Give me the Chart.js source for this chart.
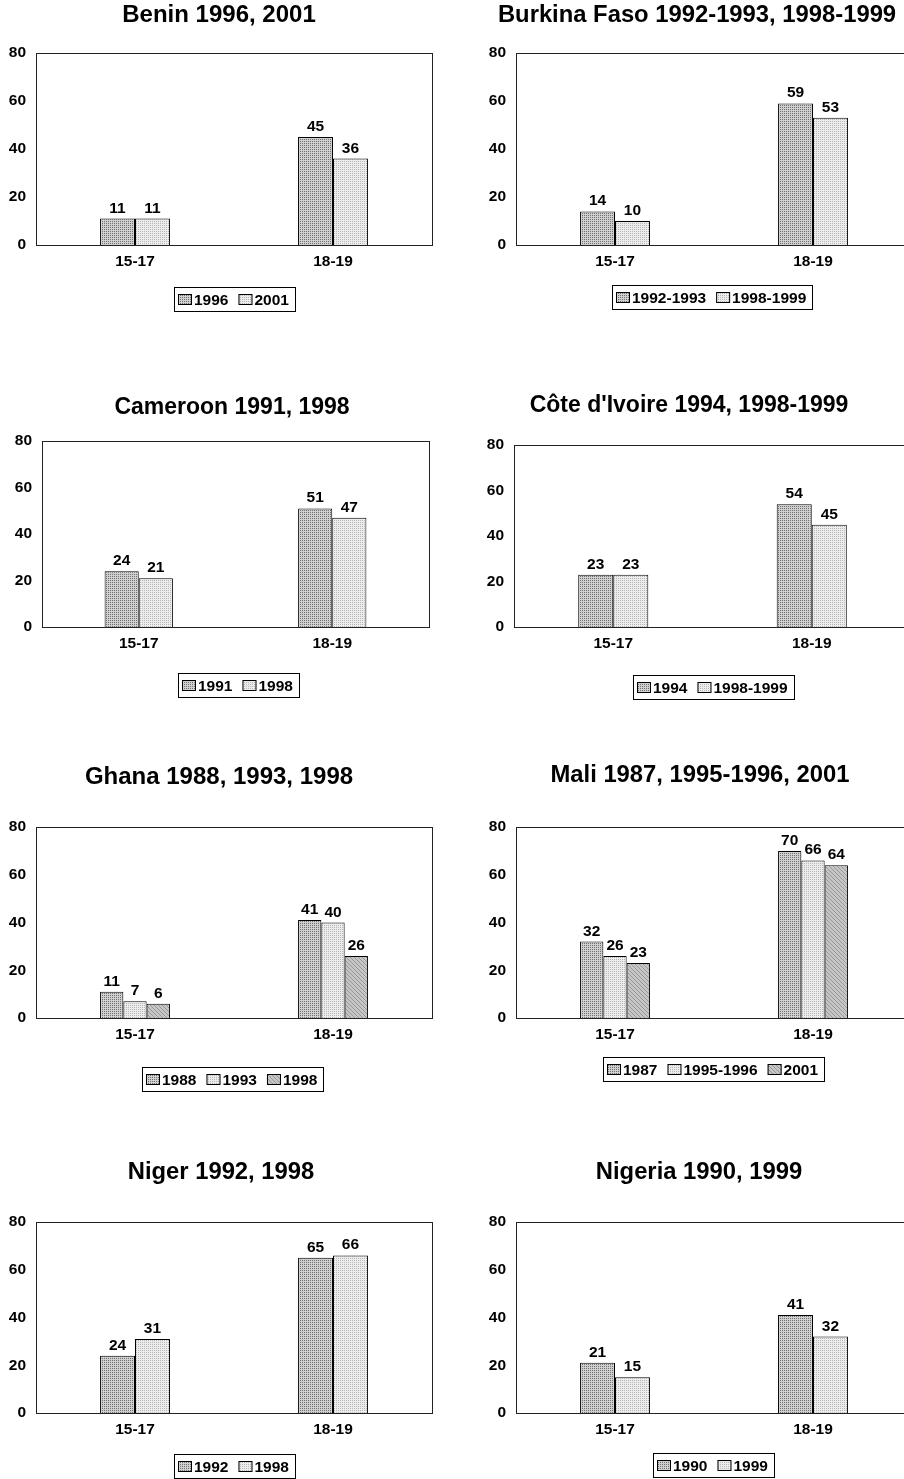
<!DOCTYPE html>
<html>
<head>
<meta charset="utf-8">
<script src="https://cdn.jsdelivr.net/npm/chart.js@4.4.0/dist/chart.umd.min.js"></script>
<style>
  html, body { margin: 0; padding: 0; background: #fff; overflow: hidden; }
  body { width: 904px; height: 1479px; position: relative; }
  canvas { position: absolute; }
</style>
</head>
<body>
<script>
// age groups shared by every panel
const ageGroups = ['15-17', '18-19'];

// values, one array per survey year
const benin1996 = [11, 45];
const benin2001 = [11, 36];
const burkina1992 = [14, 59];
const burkina1998 = [10, 53];
const cameroon1991 = [24, 51];
const cameroon1998 = [21, 47];
const cote1994 = [23, 54];
const cote1998 = [23, 45];
const ghana1988 = [11, 41];
const ghana1993 = [7, 40];
const ghana1998 = [6, 26];
const mali1987 = [32, 70];
const mali1995 = [26, 66];
const mali2001 = [23, 64];
const niger1992 = [24, 65];
const niger1998 = [31, 66];
const nigeria1990 = [21, 41];
const nigeria1999 = [15, 32];

const yTicks = [0, 20, 40, 60, 80];

const FONT = '"Liberation Sans", Arial, sans-serif';

function makePattern(size, bg, fg, cells) {
  const c = document.createElement('canvas');
  c.width = size;
  c.height = size;
  const g = c.getContext('2d');
  g.fillStyle = bg;
  g.fillRect(0, 0, size, size);
  g.fillStyle = fg;
  cells.forEach(([x, y]) => g.fillRect(x, y, 1, 1));
  return g.createPattern(c, 'repeat');
}

// excel-ish fill textures
const fills = [
  makePattern(2, '#d0d0d0', '#707070', [[0, 0]]),
  makePattern(2, '#ececec', '#b8b8b8', [[0, 0]]),
  makePattern(4, '#c6c6c6', '#969696', [[0, 0], [1, 1], [2, 2], [3, 3]])
];

// each panel: title, series, where it sits on the page
const panels = [
  { title: 'Benin 1996, 2001', years: ['1996', '2001'], series: [benin1996, benin2001], titleSize: 24,
    col: 0, plot: [36, 53, 432, 245], titleX: 219, titleY: 15, legendX: 234, legendTop: 287 },
  { title: 'Burkina Faso 1992-1993, 1998-1999', years: ['1992-1993', '1998-1999'], series: [burkina1992, burkina1998], titleSize: 23.8,
    col: 1, plot: [516, 53, 912, 245], titleX: 697, titleY: 15, legendX: 712, legendTop: 285 },
  { title: 'Cameroon 1991, 1998', years: ['1991', '1998'], series: [cameroon1991, cameroon1998], titleSize: 23,
    col: 0, plot: [42, 441, 429, 627], titleX: 232, titleY: 408, legendX: 238, legendTop: 673 },
  { title: "Côte d'Ivoire 1994, 1998-1999", years: ['1994', '1998-1999'], series: [cote1994, cote1998], titleSize: 23,
    col: 1, plot: [514, 445, 911, 627], titleX: 689, titleY: 406, legendX: 713, legendTop: 675 },
  { title: 'Ghana 1988, 1993, 1998', years: ['1988', '1993', '1998'], series: [ghana1988, ghana1993, ghana1998], titleSize: 24,
    col: 0, plot: [36, 827, 432, 1018], titleX: 219, titleY: 777, legendX: 233, legendTop: 1067 },
  { title: 'Mali 1987, 1995-1996, 2001', years: ['1987', '1995-1996', '2001'], series: [mali1987, mali1995, mali2001], titleSize: 23.8,
    col: 1, plot: [516, 827, 912, 1018], titleX: 700, titleY: 775, legendX: 714, legendTop: 1057 },
  { title: 'Niger 1992, 1998', years: ['1992', '1998'], series: [niger1992, niger1998], titleSize: 23.8,
    col: 0, plot: [36, 1222, 432, 1413], titleX: 221, titleY: 1172, legendX: 234, legendTop: 1454 },
  { title: 'Nigeria 1990, 1999', years: ['1990', '1999'], series: [nigeria1990, nigeria1999], titleSize: 23.8,
    col: 1, plot: [516, 1222, 912, 1413], titleX: 699, titleY: 1172, legendX: 713, legendTop: 1453 }
];

const Y_AXIS_W = 30;
const X_AXIS_H = 30;

// frame, title, value labels and boxed legend
const decorPlugin = {
  id: 'decor',
  beforeDatasetsDraw(chart) {
    const { ctx, chartArea: a } = chart;
    ctx.save();
    ctx.strokeStyle = '#222';
    ctx.lineWidth = 1;
    ctx.strokeRect(Math.round(a.left) + 0.5, Math.round(a.top) + 0.5,
      Math.round(a.right - a.left), Math.round(a.bottom - a.top));
    ctx.restore();
  },
  afterDraw(chart, args, opts) {
    const { ctx } = chart;
    ctx.save();
    ctx.fillStyle = '#000';

    // title
    ctx.font = 'bold ' + opts.titleSize + 'px ' + FONT;
    ctx.textAlign = 'center';
    ctx.textBaseline = 'middle';
    ctx.fillText(opts.title, opts.titleX, opts.titleY);

    // values over bars
    ctx.font = 'bold 15.5px ' + FONT;
    ctx.textBaseline = 'alphabetic';
    chart.data.datasets.forEach((ds, i) => {
      chart.getDatasetMeta(i).data.forEach((bar, j) => {
        ctx.fillText(String(ds.data[j]), bar.x, bar.y - 6);
      });
    });

    // legend
    const sw = 14, sh = 11, gap = 2, itemGap = 10, padL = 4, padR = 6, boxH = 24;
    const widths = chart.data.datasets.map(ds => sw + gap + ctx.measureText(ds.label).width);
    const inner = widths.reduce((s, w) => s + w, 0) + itemGap * (widths.length - 1);
    const boxW = inner + padL + padR;
    const bx = Math.round(opts.legendX - boxW / 2);
    const by = opts.legendTop;
    ctx.strokeStyle = '#000';
    ctx.lineWidth = 1;
    ctx.strokeRect(bx + 0.5, by + 0.5, Math.round(boxW), boxH);
    let x = bx + padL;
    const cy = by + boxH / 2 + 0.5;
    ctx.textAlign = 'left';
    ctx.textBaseline = 'middle';
    chart.data.datasets.forEach((ds, i) => {
      ctx.fillStyle = ds.backgroundColor;
      ctx.fillRect(x, Math.round(cy - sh / 2), sw, sh);
      ctx.strokeStyle = '#000';
      ctx.strokeRect(x + 0.5, Math.round(cy - sh / 2) + 0.5, sw - 1, sh - 1);
      ctx.fillStyle = '#000';
      ctx.fillText(ds.label, x + sw + gap, cy + 1);
      x += widths[i] + itemGap;
    });
    ctx.restore();
  }
};

panels.forEach(p => {
  const canvasLeft = p.col === 0 ? 0 : 452;
  const canvasW = p.col === 0 ? 452 : 470;
  const canvasTop = p.titleY - 22;
  const canvasH = p.legendTop + 26 - canvasTop;
  const [pl, pt, pr, pb] = p.plot;

  const canvas = document.createElement('canvas');
  canvas.width = canvasW;
  canvas.height = canvasH;
  canvas.style.left = canvasLeft + 'px';
  canvas.style.top = canvasTop + 'px';
  canvas.style.width = canvasW + 'px';
  canvas.style.height = canvasH + 'px';
  document.body.appendChild(canvas);

  new Chart(canvas.getContext('2d'), {
    type: 'bar',
    data: {
      labels: ageGroups,
      datasets: p.series.map((values, i) => ({
        label: p.years[i],
        data: values,
        backgroundColor: fills[i],
        borderColor: '#000',
        borderWidth: 1,
        categoryPercentage: 0.353,
        barPercentage: 1
      }))
    },
    options: {
      responsive: false,
      animation: false,
      devicePixelRatio: 1,
      layout: {
        padding: {
          left: pl - canvasLeft - Y_AXIS_W,
          top: pt - canvasTop,
          right: canvasLeft + canvasW - pr,
          bottom: canvasTop + canvasH - pb - X_AXIS_H
        }
      },
      scales: {
        x: {
          grid: { display: false, drawTicks: false },
          border: { display: false },
          ticks: { color: '#000', font: { family: FONT, size: 15.5, weight: 'bold' }, padding: 7 },
          afterFit: s => { s.height = X_AXIS_H; }
        },
        y: {
          min: yTicks[0],
          max: yTicks[yTicks.length - 1],
          afterBuildTicks: s => { s.ticks = yTicks.map(v => ({ value: v })); },
          grid: { display: false, drawTicks: false },
          border: { display: false },
          ticks: { color: '#000', font: { family: FONT, size: 15.5, weight: 'bold' }, padding: 10 },
          afterFit: s => { s.width = Y_AXIS_W; }
        }
      },
      plugins: {
        legend: { display: false },
        title: { display: false },
        tooltip: { enabled: false },
        decor: {
          title: p.title,
          titleSize: p.titleSize,
          titleX: p.titleX - canvasLeft,
          titleY: p.titleY - canvasTop,
          legendX: p.legendX - canvasLeft,
          legendTop: p.legendTop - canvasTop
        }
      }
    },
    plugins: [decorPlugin]
  });
});
</script>
</body>
</html>
